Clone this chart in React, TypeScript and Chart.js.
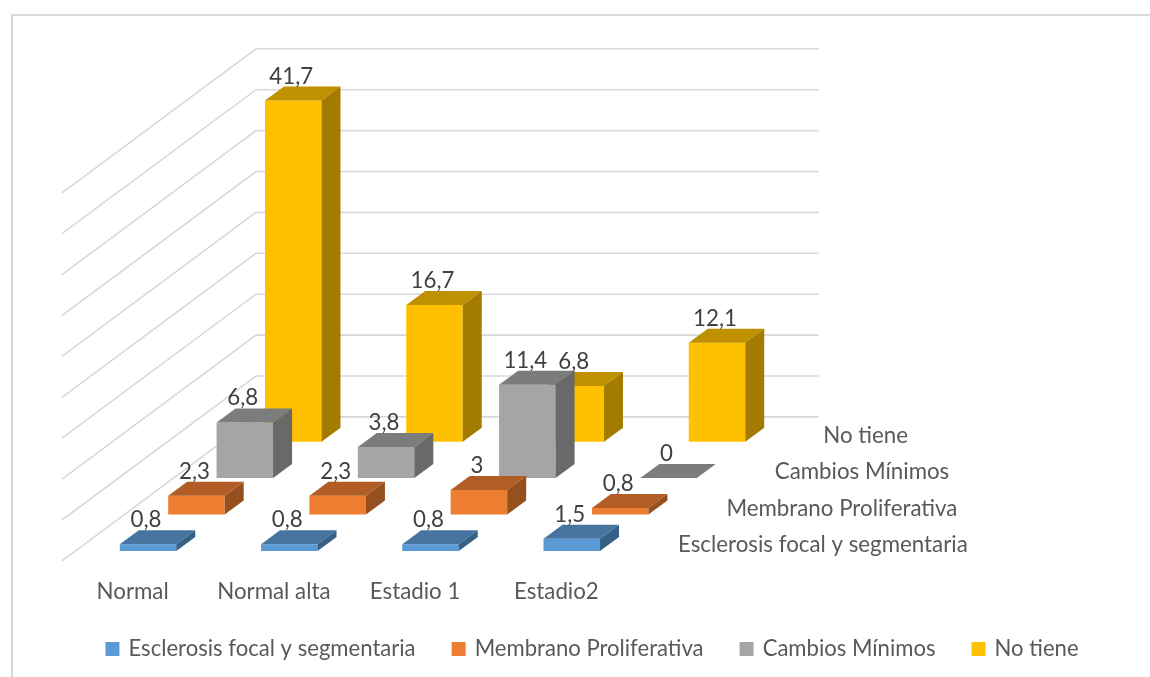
import React, { useEffect, useRef } from "react";
import { Chart, registerables } from "chart.js";

Chart.register(...registerables);

const categories = ["Normal", "Normal alta", "Estadio 1", "Estadio2"];
const seriesNames = ["Esclerosis focal y segmentaria", "Membrano Proliferativa", "Cambios Mínimos", "No tiene"];
const esclerosis = [0.8, 0.8, 0.8, 1.5];
const membrano = [2.3, 2.3, 3, 0.8];
const cambios = [6.8, 3.8, 11.4, 0];
const noTiene = [41.7, 16.7, 6.8, 12.1];
const seriesValues = [esclerosis, membrano, cambios, noTiene];
const frontColors = ["#5B9BD5", "#ED7D31", "#A5A5A5", "#FFC000"];
const topColors = ["#44749F", "#B15D25", "#7C7C7C", "#BF9000"];
const sideColors = ["#376087", "#964F1F", "#696969", "#A37B00"];

const FONT = "Lato";
const LABEL_SIZE = 22.3;
const LEGEND_SIZE = 22.1;
const ROW_DX = 48.4;
const ROW_DY = -36.4;
const FIRST_DX = 15.4;
const FIRST_DY = -10;
const WALL_DX = 194;
const WALL_DY = -144;
const DEPTH_DX = 19;
const DEPTH_DY = -14;

const rowShift = (k: number) => ({ x: FIRST_DX + ROW_DX * k, y: FIRST_DY + ROW_DY * k });

const scene3d = {
  id: "scene3d",
  beforeDraw(chart: any) {
    const { ctx } = chart;
    ctx.save();
    ctx.strokeStyle = "#D9D9D9";
    ctx.lineWidth = 2;
    ctx.beginPath();
    ctx.moveTo(12, 677);
    ctx.lineTo(12, 15);
    ctx.lineTo(1150, 15);
    ctx.stroke();
    ctx.restore();
  },
  beforeDatasetsDraw(chart: any) {
    const { ctx, chartArea, scales } = chart;
    const y = scales.y;
    ctx.save();
    ctx.strokeStyle = "#D9D9D9";
    ctx.lineWidth = 1.6;
    y.ticks.forEach((t: any) => {
      const py = y.getPixelForValue(t.value);
      ctx.beginPath();
      ctx.moveTo(chartArea.left, py);
      ctx.lineTo(chartArea.left + WALL_DX, py + WALL_DY);
      ctx.lineTo(chartArea.right + WALL_DX - 2, py + WALL_DY);
      ctx.stroke();
    });
    ctx.restore();
  },
  beforeDatasetDraw(chart: any, args: any) {
    const s = rowShift(args.index);
    chart.ctx.save();
    chart.ctx.translate(s.x, s.y);
  },
  afterDatasetDraw(chart: any, args: any) {
    const { ctx } = chart;
    const k = args.index;
    args.meta.data.forEach((bar: any) => {
      const { x, y, base, width } = bar.getProps(["x", "y", "base", "width"], true);
      const r = x + width / 2;
      const l = x - width / 2;
      ctx.fillStyle = topColors[k];
      ctx.beginPath();
      ctx.moveTo(l, y);
      ctx.lineTo(r, y);
      ctx.lineTo(r + DEPTH_DX, y + DEPTH_DY);
      ctx.lineTo(l + DEPTH_DX, y + DEPTH_DY);
      ctx.closePath();
      ctx.fill();
      if (base - y > 0.5) {
        ctx.fillStyle = sideColors[k];
        ctx.beginPath();
        ctx.moveTo(r, y);
        ctx.lineTo(r + DEPTH_DX, y + DEPTH_DY);
        ctx.lineTo(r + DEPTH_DX, base + DEPTH_DY);
        ctx.lineTo(r, base);
        ctx.closePath();
        ctx.fill();
      }
    });
    ctx.restore();
  },
  afterDatasetsDraw(chart: any) {
    const { ctx, scales } = chart;
    const zero = scales.y.getPixelForValue(0);
    ctx.save();
    ctx.font = `${LABEL_SIZE}px ${FONT}`;
    ctx.textBaseline = "alphabetic";
    // depth-axis labels
    ctx.fillStyle = "#595959";
    ctx.textAlign = "left";
    seriesNames.forEach((name, k) => {
      ctx.fillText(name, 678 + ROW_DX * k, zero - 9 + ROW_DY * k);
    });
    // value labels
    ctx.fillStyle = "#404040";
    ctx.textAlign = "center";
    chart.data.datasets.forEach((_: any, k: number) => {
      const s = rowShift(k);
      chart.getDatasetMeta(k).data.forEach((bar: any, i: number) => {
        const text = String(seriesValues[k][i]).replace(".", ",");
        ctx.fillText(text, bar.x + s.x - 2, bar.y + s.y + DEPTH_DY - 3);
      });
    });
    ctx.restore();
  },
};

export default function App() {
  const ref = useRef<HTMLCanvasElement>(null);
  useEffect(() => {
    const chart = new Chart(ref.current!, {
      type: "bar",
      data: {
        labels: categories,
        datasets: seriesNames.map((name, k) => ({
          label: name,
          data: seriesValues[k],
          backgroundColor: frontColors[k],
          borderWidth: 0,
          grouped: false,
          clip: false as any,
          categoryPercentage: 1,
          barPercentage: 0.4,
        })),
      },
      options: {
        responsive: false,
        animation: false,
        layout: { padding: { left: 36, right: 0, top: 192.8, bottom: 7 } },
        plugins: {
          tooltip: { enabled: false },
          legend: {
            position: "bottom",
            labels: {
              boxWidth: 10,
              boxHeight: 10,
              padding: 38,
              color: "#595959",
              font: { family: FONT, size: LEGEND_SIZE },
              generateLabels: (chart: any) =>
                (Chart.defaults.plugins.legend.labels as any).generateLabels(chart).map((l: any) => ({
                  ...l,
                  lineWidth: 4,
                  strokeStyle: l.fillStyle,
                  lineJoin: "miter",
                })),
            },
          },
        },
        scales: {
          x: {
            grid: { display: false },
            border: { display: false },
            ticks: { color: "#595959", font: { family: FONT, size: LABEL_SIZE }, padding: 10, maxRotation: 0 },
            afterFit: (s: any) => { s.height = 39; },
          },
          y: {
            position: "left",
            min: 0,
            max: 45,
            grid: { display: false },
            border: { display: false },
            ticks: { display: false, stepSize: 5 },
            afterFit: (s: any) => { s.width = 26; },
          },
          yEnd: {
            position: "right",
            min: 0,
            max: 45,
            grid: { display: false },
            border: { display: false },
            ticks: { display: false },
            afterFit: (s: any) => { s.width = 523; },
          },
        },
      },
      plugins: [scene3d],
    } as any);
    return () => chart.destroy();
  }, []);
  return (
    <div style={{ position: "absolute", left: 0, top: 0, width: 1150, height: 677, background: "#fff" }}>
      <canvas ref={ref} width={1150} height={677} style={{ display: "block" }} />
    </div>
  );
}
